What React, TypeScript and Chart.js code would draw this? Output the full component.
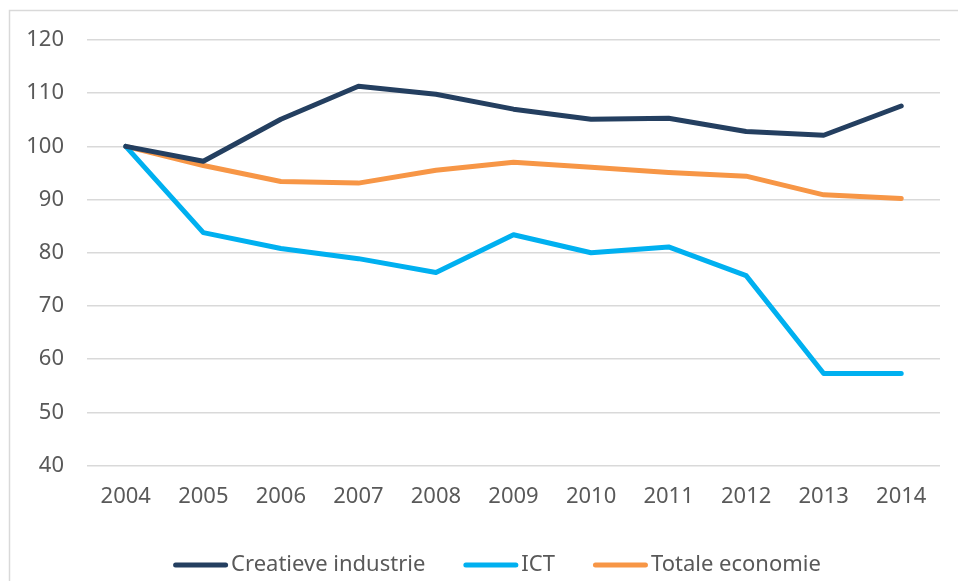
import React, { useEffect, useRef } from "react";
import { Chart, registerables } from "chart.js";

Chart.register(...registerables);

const years = ["2004", "2005", "2006", "2007", "2008", "2009", "2010", "2011", "2012", "2013", "2014"];
const creatieveIndustrie = [100, 97.2, 105.1, 111.3, 109.8, 107.0, 105.1, 105.3, 102.8, 102.1, 107.6];
const ict = [100, 83.8, 80.8, 78.9, 76.3, 83.4, 80.0, 81.1, 75.7, 57.3, 57.3];
const totaleEconomie = [100, 96.4, 93.4, 93.1, 95.5, 97.0, 96.1, 95.1, 94.4, 90.9, 90.2];
const seriesNames = ["Creatieve industrie", "ICT", "Totale economie"];
const seriesColors = ["#243F60", "#00B0F0", "#F79646"];

const FONT = "'Noto Sans', 'Open Sans', sans-serif";
const TEXT = "#595959";
const FS = 22;

const framePlugin = {
  id: "frame",
  beforeDraw(chart: any) {
    const ctx = chart.ctx;
    ctx.save();
    ctx.fillStyle = "#ffffff";
    ctx.fillRect(0, 0, chart.width, chart.height);
    ctx.strokeStyle = "#d9d9d9";
    ctx.lineWidth = 1.5;
    ctx.strokeRect(9.5, 10.5, chart.width + 20, chart.height + 20);
    ctx.restore();
  },
};

const legendPlugin = {
  id: "customLegend",
  afterDraw(chart: any) {
    const ctx = chart.ctx;
    ctx.save();
    ctx.font = `${FS}px ${FONT}`;
    ctx.textBaseline = "middle";
    ctx.textAlign = "left";
    const lineW = 55;
    const gap = 3;
    const itemGap = 38;
    const items = chart.data.datasets.map((d: any) => ({
      text: d.label,
      color: d.borderColor,
      w: lineW + gap + ctx.measureText(d.label).width,
    }));
    const total = items.reduce((a: number, it: any) => a + it.w, 0) + itemGap * (items.length - 1);
    let x = 497 - total / 2;
    const y = 565;
    items.forEach((it: any) => {
      ctx.strokeStyle = it.color;
      ctx.lineWidth = 5;
      ctx.lineCap = "round";
      ctx.beginPath();
      ctx.moveTo(x + 2.5, y);
      ctx.lineTo(x + lineW - 2.5, y);
      ctx.stroke();
      ctx.fillStyle = TEXT;
      ctx.fillText(it.text, x + lineW + gap, y);
      x += it.w + itemGap;
    });
    ctx.restore();
  },
};

export default function App() {
  const ref = useRef<HTMLCanvasElement>(null);
  useEffect(() => {
    if (!ref.current) return;
    const data = [creatieveIndustrie, ict, totaleEconomie];
    const chart = new Chart(ref.current, {
      type: "line",
      data: {
        labels: years,
        datasets: seriesNames.map((name, i) => ({
          label: name,
          data: data[i],
          borderColor: seriesColors[i],
          backgroundColor: seriesColors[i],
          borderWidth: 5,
          borderCapStyle: "round",
          borderJoinStyle: "round",
          pointRadius: 0,
          tension: 0,
          fill: false,
        })),
      },
      options: {
        animation: false,
        responsive: false,
        layout: { padding: { left: 0, right: 18, top: 40, bottom: 53 } },
        scales: {
          x: {
            offset: true,
            grid: { display: false, drawTicks: false },
            border: { display: false },
            ticks: { color: TEXT, font: { family: FONT, size: FS }, padding: 18, maxRotation: 0 },
          },
          y: {
            min: 40,
            max: 120,
            afterFit: (s: any) => { s.width = 87; },
            grid: { color: "#d9d9d9", lineWidth: 1.5, drawTicks: false },
            border: { display: false },
            ticks: { stepSize: 10, color: TEXT, font: { family: FONT, size: FS }, padding: 23 },
          },
        },
        plugins: {
          tooltip: { enabled: false },
          legend: { display: false },
        },
      },
      plugins: [framePlugin, legendPlugin],
    });
    return () => chart.destroy();
  }, []);
  return (
    <div style={{ position: "absolute", left: 0, top: 0, width: 958, height: 581 }}>
      <canvas ref={ref} width={958} height={581} style={{ display: "block" }} />
    </div>
  );
}
